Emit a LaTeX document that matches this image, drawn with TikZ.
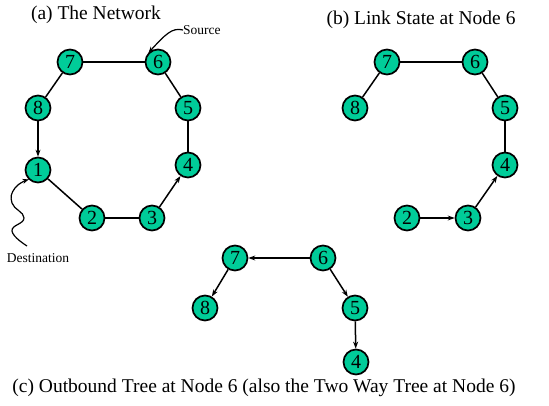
\documentclass[tikz,border=0pt]{standalone}
\usepackage{fontspec}
\setmainfont{Liberation Serif}
\usetikzlibrary{arrows.meta}
\definecolor{nodegreen}{HTML}{00CC99}
\begin{document}
\begin{tikzpicture}[x=1pt,y=-1pt,
  nd/.style={circle,draw=black,line width=1.7pt,fill=nodegreen,minimum size=25pt,inner sep=0pt,font=\fontsize{20}{20}\selectfont},
  ln/.style={line width=1.5pt},
  ar/.style={line width=1.5pt,-{Stealth[length=7pt,width=5pt]}},
  ttl/.style={font=\fontsize{19.5}{20}\selectfont,inner sep=0pt},
  lbl/.style={font=\fontsize{13.5}{14}\selectfont,inner sep=0pt}]
\useasboundingbox (0,0) rectangle (549,406);
% (a)
\node[ttl] (ta) at (96,15) {(a) The Network};
\node[nd] (a7) at (70,62) {7};
\node[nd] (a6) at (158,62) {6};
\node[nd] (a8) at (38,108) {8};
\node[nd] (a5) at (188,108) {5};
\node[nd] (a1) at (38,170) {1};
\node[nd] (a4) at (188,165) {4};
\node[nd] (a2) at (92,218) {2};
\node[nd] (a3) at (152,218) {3};
\draw[ln] (a7) -- (a6);
\draw[ln] (a7) -- (a8);
\draw[ar] (a8) -- (a1);
\draw[ln] (a1) -- (a2);
\draw[ln] (a2) -- (a3);
\draw[ar] (a3) -- (a4);
\draw[ln] (a4) -- (a5);
\draw[ln] (a5) -- (a6);
\node[lbl,anchor=west] (src) at (183,30) {Source};
\draw[line width=1.2pt,-{Stealth[length=6pt,width=5pt]}] (src.west) .. controls (172,27) and (165,35) .. (a6.north west);
\node[lbl] (dst) at (38,258) {Destination};
\coordinate (d0) at (27,246);
\draw[line width=1.2pt,-{Stealth[length=6pt,width=5pt]}] plot[smooth,tension=0.8] coordinates {(d0) (12,231) (24,218) (12,203) (15,188) (a1.south west)};
% (b)
\node[ttl] (tb) at (421,20) {(b) Link State at Node 6};
\node[nd] (b7) at (387,62) {7};
\node[nd] (b6) at (475,62) {6};
\node[nd] (b8) at (355,108) {8};
\node[nd] (b5) at (505,108) {5};
\node[nd] (b4) at (505,165) {4};
\node[nd] (b2) at (407,218) {2};
\node[nd] (b3) at (468,218) {3};
\draw[ln] (b7) -- (b6);
\draw[ln] (b7) -- (b8);
\draw[ar] (b2) -- (b3);
\draw[ar] (b3) -- (b4);
\draw[ln] (b4) -- (b5);
\draw[ln] (b5) -- (b6);
% (c)
\node[nd] (c7) at (235,258) {7};
\node[nd] (c6) at (323,258) {6};
\node[nd] (c8) at (205,308) {8};
\node[nd] (c5) at (355,308) {5};
\node[nd] (c4) at (356,362) {4};
\draw[ar] (c6) -- (c7);
\draw[ar] (c7) -- (c8);
\draw[ar] (c6) -- (c5);
\draw[ar] (c5) -- (c4);
\node[ttl] (tc) at (264,388) {(c) Outbound Tree at Node 6 (also the Two Way Tree at Node 6)};
\end{tikzpicture}
\end{document}
